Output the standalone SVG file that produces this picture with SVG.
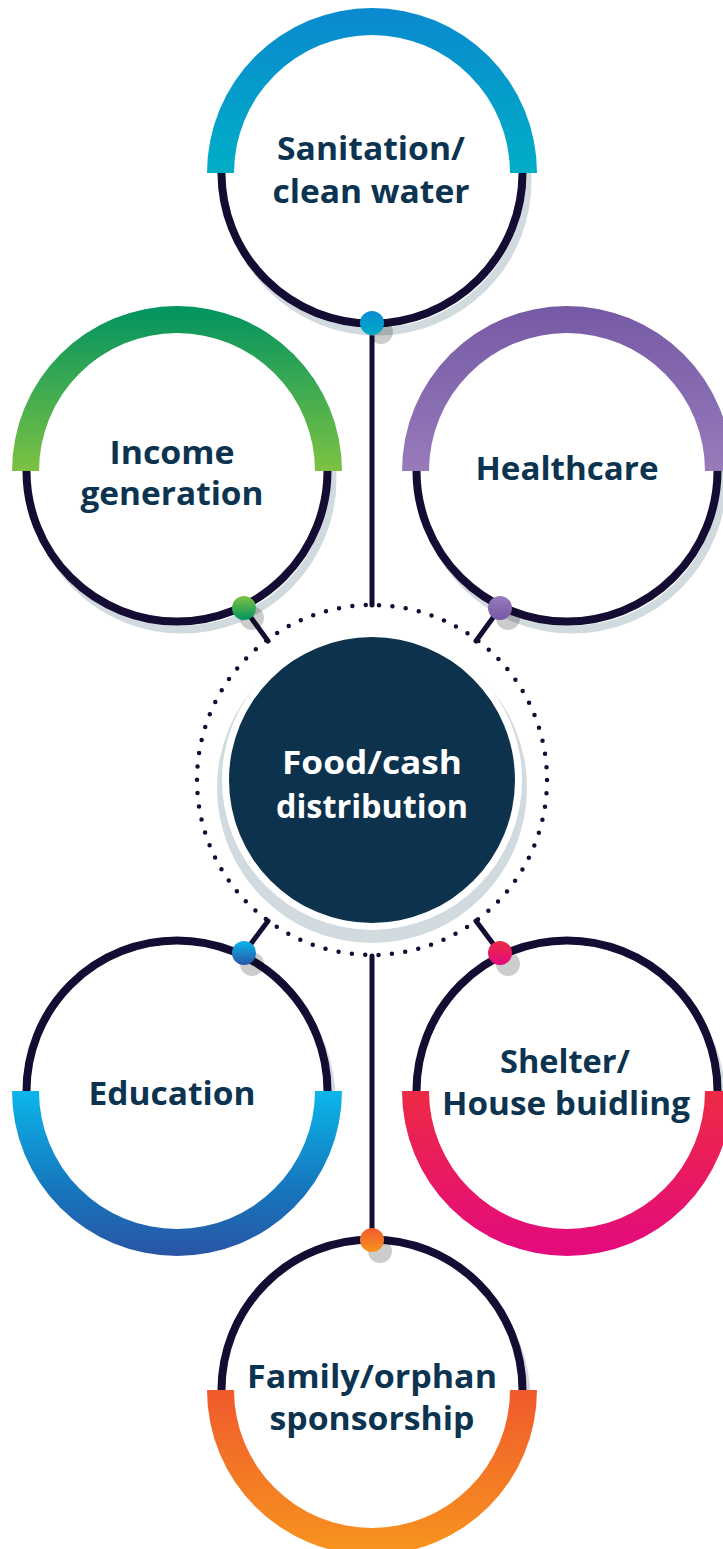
<svg xmlns="http://www.w3.org/2000/svg" width="723" height="1549" viewBox="0 0 723 1549">
<defs>
<linearGradient id="gBlue" x1="0" y1="0" x2="0" y2="1"><stop offset="0" stop-color="#0a89cf"/><stop offset="1" stop-color="#00aec5"/></linearGradient>
<linearGradient id="gGreen" x1="0" y1="0" x2="0" y2="1"><stop offset="0" stop-color="#009360"/><stop offset="1" stop-color="#7dc243"/></linearGradient>
<linearGradient id="gPurple" x1="0" y1="0" x2="0" y2="1"><stop offset="0" stop-color="#7559a5"/><stop offset="1" stop-color="#977bba"/></linearGradient>
<linearGradient id="gEdu" x1="0" y1="0" x2="0" y2="1"><stop offset="0" stop-color="#0bb6ea"/><stop offset="0.6" stop-color="#1675bd"/><stop offset="1" stop-color="#2955a4"/></linearGradient>
<linearGradient id="gPink" x1="0" y1="0" x2="0" y2="1"><stop offset="0" stop-color="#ed2a44"/><stop offset="1" stop-color="#e30a7e"/></linearGradient>
<linearGradient id="gOrange" x1="0" y1="0" x2="0" y2="1"><stop offset="0" stop-color="#f05a2c"/><stop offset="1" stop-color="#f7951e"/></linearGradient>
<linearGradient id="dBlue" x1="0" y1="0" x2="0" y2="1"><stop offset="0" stop-color="#0a8dd0"/><stop offset="1" stop-color="#00a9c6"/></linearGradient>
<linearGradient id="dGreen" x1="0" y1="0" x2="0" y2="1"><stop offset="0" stop-color="#7dc243"/><stop offset="1" stop-color="#009360"/></linearGradient>
<linearGradient id="dPurple" x1="0" y1="0" x2="0" y2="1"><stop offset="0" stop-color="#977bba"/><stop offset="1" stop-color="#7559a5"/></linearGradient>
<linearGradient id="dEdu" x1="0" y1="0" x2="0" y2="1"><stop offset="0" stop-color="#0bb6ea"/><stop offset="1" stop-color="#2955a4"/></linearGradient>
<linearGradient id="dPink" x1="0" y1="0" x2="0" y2="1"><stop offset="0" stop-color="#ed2a44"/><stop offset="1" stop-color="#e30a7e"/></linearGradient>
<linearGradient id="dOrange" x1="0" y1="0" x2="0" y2="1"><stop offset="0" stop-color="#f05a2c"/><stop offset="1" stop-color="#f7951e"/></linearGradient>
</defs>
<style>
.shadow{fill:none;stroke:#d1dadf;stroke-width:8}
.ring{fill:#fff;stroke:#140c33;stroke-width:8}
.ringw{fill:none;stroke:#140c33;stroke-width:8}
.line{stroke:#140c33;stroke-width:5;stroke-linecap:round}
.dotsh{fill:#000;opacity:0.2}
.lbl{font-family:"Open Sans","Liberation Sans",sans-serif;font-weight:700;font-size:32px;fill:#0c3451;text-anchor:middle}
.lblw{font-family:"Open Sans","Liberation Sans",sans-serif;font-weight:700;font-size:32px;fill:#ffffff;text-anchor:middle}
</style>
<rect width="723" height="1549" fill="#ffffff"/>

<g id="center">
<circle cx="372" cy="788" r="155" fill="#d1dadf"/>
<circle cx="372" cy="780" r="150" fill="#ffffff"/>
<circle cx="372" cy="780" r="143" fill="#0d324d"/>
<circle cx="372" cy="780" r="175" fill="none" stroke="#140c33" stroke-width="4.5" stroke-linecap="round" stroke-dasharray="0 13.41"/>
<text class="lblw" x="372" y="774" textLength="180" lengthAdjust="spacingAndGlyphs">Food/cash</text>
<text class="lblw" x="372" y="818" textLength="192" lengthAdjust="spacingAndGlyphs">distribution</text>
</g>

<g id="connectors">
<line class="line" x1="372" y1="323" x2="372" y2="605"/>
<line class="line" x1="244" y1="608" x2="268" y2="641"/>
<line class="line" x1="500" y1="608" x2="476" y2="641"/>
<line class="line" x1="244" y1="953" x2="268" y2="921"/>
<line class="line" x1="500" y1="953" x2="476" y2="921"/>
<line class="line" x1="372" y1="956" x2="372" y2="1240"/>
</g>

<g id="sanitation">
<circle class="shadow" cx="377" cy="181" r="150.5"/>
<circle class="ring" cx="372" cy="173" r="150.5"/>
<path d="M207,173 A165,165 0 0 1 537,173 L510,173 A138,138 0 0 0 234,173 Z" fill="url(#gBlue)"/>
<text class="lbl" x="371" y="160" textLength="188" lengthAdjust="spacingAndGlyphs">Sanitation/</text>
<text class="lbl" x="371" y="203" textLength="197" lengthAdjust="spacingAndGlyphs">clean water</text>
</g>

<g id="income">
<circle class="shadow" cx="182" cy="479" r="150.5"/>
<circle class="ring" cx="177" cy="471" r="150.5"/>
<path d="M12,471 A165,165 0 0 1 342,471 L315,471 A138,138 0 0 0 39,471 Z" fill="url(#gGreen)"/>
<text class="lbl" x="172" y="464" textLength="125" lengthAdjust="spacingAndGlyphs">Income</text>
<text class="lbl" x="172" y="505" textLength="183" lengthAdjust="spacingAndGlyphs">generation</text>
</g>

<g id="healthcare">
<circle class="shadow" cx="572" cy="479" r="150.5"/>
<circle class="ring" cx="567" cy="471" r="150.5"/>
<path d="M402,471 A165,165 0 0 1 732,471 L705,471 A138,138 0 0 0 429,471 Z" fill="url(#gPurple)"/>
<text class="lbl" x="567" y="480" textLength="183" lengthAdjust="spacingAndGlyphs">Healthcare</text>
</g>

<g id="education">
<circle class="shadow" cx="181" cy="1100" r="150.5"/>
<circle class="ring" cx="177" cy="1091" r="150.5"/>
<path d="M12,1091 A165,165 0 0 0 342,1091 L315,1091 A138,138 0 0 1 39,1091 Z" fill="url(#gEdu)"/>
<text class="lbl" x="172" y="1105" textLength="167" lengthAdjust="spacingAndGlyphs">Education</text>
</g>

<g id="shelter">
<circle class="shadow" cx="571" cy="1100" r="150.5"/>
<circle class="ring" cx="567" cy="1091" r="150.5"/>
<path d="M402,1091 A165,165 0 0 0 732,1091 L705,1091 A138,138 0 0 1 429,1091 Z" fill="url(#gPink)"/>
<text class="lbl" x="565" y="1073" textLength="130" lengthAdjust="spacingAndGlyphs">Shelter/</text>
<text class="lbl" x="566" y="1115" textLength="248" lengthAdjust="spacingAndGlyphs">House buidling</text>
</g>

<g id="family">
<circle class="shadow" cx="376" cy="1399" r="150.5"/>
<circle class="ring" cx="372" cy="1390" r="150.5"/>
<path d="M207,1390 A165,165 0 0 0 537,1390 L510,1390 A138,138 0 0 1 234,1390 Z" fill="url(#gOrange)"/>
<text class="lbl" x="372" y="1388" textLength="250" lengthAdjust="spacingAndGlyphs">Family/orphan</text>
<text class="lbl" x="372" y="1430" textLength="205" lengthAdjust="spacingAndGlyphs">sponsorship</text>
</g>

<g id="dots">
<circle class="dotsh" cx="381" cy="332" r="12"/>
<circle cx="372" cy="323" r="12" fill="url(#dBlue)"/>
<circle class="dotsh" cx="252" cy="618" r="12"/>
<circle cx="244" cy="608" r="12" fill="url(#dGreen)"/>
<circle class="dotsh" cx="508" cy="618" r="12"/>
<circle cx="500" cy="608" r="12" fill="url(#dPurple)"/>
<circle class="dotsh" cx="252" cy="964" r="12"/>
<circle cx="244" cy="953" r="12" fill="url(#dEdu)"/>
<circle class="dotsh" cx="508" cy="964" r="12"/>
<circle cx="500" cy="953" r="12" fill="url(#dPink)"/>
<circle class="dotsh" cx="380" cy="1251" r="12"/>
<circle cx="372" cy="1240" r="12" fill="url(#dOrange)"/>
</g>
</svg>
